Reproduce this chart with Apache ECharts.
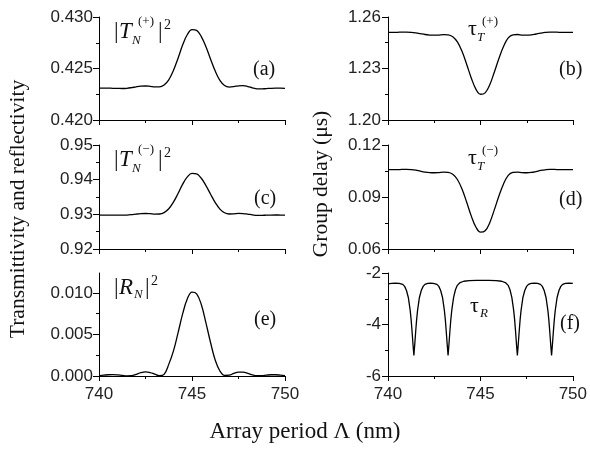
<!DOCTYPE html>
<html><head><meta charset="utf-8">
<script src="https://cdn.jsdelivr.net/npm/echarts@6/dist/echarts.min.js"></script>
<style>html,body{margin:0;padding:0;background:#fff}#c{width:590px;height:452px}</style>
</head><body><div id="c"></div>
<script>
// ---- data ----
const xPeriod = [740,740.25,740.5,740.75,741,741.25,741.5,741.75,742,742.25,742.5,742.75,743,743.25,743.5,743.75,744,744.25,744.5,744.75,745,745.25,745.5,745.75,746,746.25,746.5,746.75,747,747.25,747.5,747.75,748,748.25,748.5,748.75,749,749.25,749.5,749.75,750];
const tPlus = [0.42310,0.42310,0.42309,0.42308,0.42307,0.42306,0.42308,0.42314,0.42322,0.42328,0.42330,0.42327,0.42322,0.42322,0.42340,0.42390,0.42480,0.42600,0.42730,0.42830,0.42878,0.42870,0.42810,0.42710,0.42590,0.42475,0.42385,0.42335,0.42320,0.42324,0.42332,0.42333,0.42325,0.42312,0.42303,0.42302,0.42305,0.42308,0.42309,0.42309,0.42308];
const tMinus = [0.92980,0.92980,0.92978,0.92976,0.92975,0.92975,0.92980,0.92992,0.93008,0.93020,0.93024,0.93018,0.93008,0.93010,0.93050,0.93160,0.93350,0.93600,0.93870,0.94080,0.94180,0.94165,0.94040,0.93830,0.93580,0.93340,0.93150,0.93045,0.93010,0.93015,0.93025,0.93022,0.93005,0.92985,0.92972,0.92972,0.92976,0.92980,0.92981,0.92980,0.92979];
const rRefl = [0.00005,0.00010,0.00015,0.00016,0.00013,0.00007,0.00002,0.00003,0.00020,0.00040,0.00049,0.00042,0.00022,0.00004,0.00020,0.00140,0.00300,0.00520,0.00750,0.00930,0.01010,0.00990,0.00860,0.00640,0.00400,0.00190,0.00060,0.00008,0.00010,0.00032,0.00047,0.00046,0.00032,0.00013,0.00003,0.00004,0.00010,0.00015,0.00015,0.00010,0.00004];
const tauTPlus = [1.2511,1.2511,1.2511,1.2512,1.2512,1.2511,1.2508,1.2503,1.2498,1.2495,1.2494,1.2495,1.2497,1.2496,1.2485,1.2455,1.2400,1.2325,1.2245,1.2180,1.2150,1.2158,1.2205,1.2280,1.2360,1.2430,1.2478,1.2496,1.2498,1.2495,1.2494,1.2496,1.2501,1.2506,1.2510,1.2512,1.2512,1.2511,1.2511,1.2511,1.2511];
const tauTMinus = [0.1058,0.1058,0.1058,0.1059,0.1059,0.1058,0.1055,0.1049,0.1044,0.1041,0.1040,0.1041,0.1043,0.1042,0.1031,0.1001,0.0946,0.0871,0.0791,0.0727,0.0697,0.0705,0.0752,0.0827,0.0907,0.0977,0.1025,0.1042,0.1044,0.1041,0.1040,0.1042,0.1047,0.1053,0.1057,0.1059,0.1059,0.1058,0.1058,0.1058,0.1058];
const xPeriodR = [740,740.2,740.4,740.6,740.8,740.9,741.0,741.1,741.2,741.25,741.3,741.35,741.4,741.45,741.5,741.55,741.6,741.7,741.8,741.9,742.0,742.15,742.3,742.45,742.65,742.75,742.85,742.95,743.05,743.1,743.15,743.2,743.25,743.3,743.35,743.4,743.45,743.55,743.65,743.75,743.9,744.1,744.4,744.8,745.1,745.45,745.85,746.15,746.35,746.5,746.6,746.7,746.8,746.85,746.9,746.95,747.0,747.05,747.1,747.15,747.2,747.3,747.4,747.5,747.6,747.75,747.92,748.1,748.25,748.35,748.45,748.55,748.65,748.7,748.75,748.8,748.85,748.9,748.95,749.0,749.05,749.15,749.25,749.35,749.45,749.6,749.8,750];
const tauR = [-2.42,-2.40,-2.39,-2.40,-2.44,-2.52,-2.68,-2.95,-3.45,-3.8,-4.25,-4.75,-5.2,-4.75,-4.25,-3.8,-3.45,-2.95,-2.68,-2.52,-2.44,-2.40,-2.39,-2.40,-2.44,-2.52,-2.68,-2.95,-3.45,-3.8,-4.25,-4.75,-5.2,-4.75,-4.25,-3.8,-3.45,-2.95,-2.65,-2.48,-2.37,-2.32,-2.30,-2.29,-2.29,-2.29,-2.30,-2.32,-2.37,-2.48,-2.65,-2.95,-3.45,-3.8,-4.25,-4.75,-5.2,-4.75,-4.25,-3.8,-3.45,-2.95,-2.68,-2.52,-2.44,-2.40,-2.39,-2.40,-2.44,-2.52,-2.68,-2.95,-3.45,-3.8,-4.25,-4.75,-5.2,-4.75,-4.25,-3.8,-3.45,-2.95,-2.68,-2.52,-2.44,-2.40,-2.39,-2.40];
const xTickLabels = [740, 745, 750];
const eTickValues = [0, 0.005, 0.010];

// ---- chart ----
const SANS = '"Liberation Sans", Arial, sans-serif';
const SERIF = '"Liberation Serif", "Times New Roman", serif';
const INK = '#111';
const zip = (xs, ys) => xs.map((x, i) => [x, ys[i]]);

const grids = [
  {left: 99, top: 17, width: 186, height: 103},
  {left: 388, top: 17, width: 185, height: 103},
  {left: 99, top: 145, width: 186, height: 104},
  {left: 388, top: 145, width: 185, height: 104},
  {left: 99, top: 273, width: 186, height: 103},
  {left: 388, top: 273, width: 185, height: 103}
];
const yCfg = [
  {min: 0.420, max: 0.430, interval: 0.005, dec: 3, margin: 6},
  {min: 1.20, max: 1.26, interval: 0.03, dec: 2, margin: 7},
  {min: 0.92, max: 0.95, interval: 0.01, dec: 2, margin: 6},
  {min: 0.06, max: 0.12, interval: 0.03, dec: 2, margin: 7},
  {min: 0, max: 0.0124, interval: 0.005, dec: 3, margin: 6, custom: eTickValues},
  {min: -6, max: -2, interval: 2, dec: 0, margin: 7}
];
const seriesData = [
  zip(xPeriod, tPlus), zip(xPeriod, tauTPlus),
  zip(xPeriod, tMinus), zip(xPeriod, tauTMinus),
  zip(xPeriod, rRefl), zip(xPeriodR, tauR)
];

const axisLine = {show: true, lineStyle: {color: '#000', width: 1}};
const xAxis = grids.map((g, i) => ({
  type: 'value', gridIndex: i, min: 740, max: 750, interval: 5,
  axisLine, splitLine: {show: false},
  axisTick: {show: true, length: 5, lineStyle: {color: '#000'}},
  minorTick: {show: true, splitNumber: 2, length: 3, lineStyle: {color: '#000'}},
  axisLabel: {show: i >= 4, margin: 10, fontFamily: SANS, fontSize: 17, color: '#222',
    customValues: xTickLabels, formatter: v => String(Math.round(v))}
}));
const yAxis = yCfg.map((c, i) => {
  const ax = {
    type: 'value', gridIndex: i, min: c.min, max: c.max, interval: c.interval,
    axisLine, splitLine: {show: false},
    axisTick: {show: true, length: 6, lineStyle: {color: '#000'}},
    minorTick: {show: true, splitNumber: 2, length: 3, lineStyle: {color: '#000'}},
    axisLabel: {margin: c.margin, fontFamily: SANS, fontSize: 17, color: '#222',
      formatter: v => Number(v).toFixed(c.dec)}
  };
  if (c.custom) {
    ax.axisTick.customValues = c.custom;
    ax.axisLabel.customValues = c.custom;
  }
  return ax;
});
const series = seriesData.map((d, i) => ({
  type: 'line', xAxisIndex: i, yAxisIndex: i, data: d,
  showSymbol: false, smooth: i === 5 ? false : 0.4,
  lineStyle: {color: '#000', width: 1.3}, silent: true, animation: false
}));

function txt(s, x, y, size, italic, align) {
  return {type: 'text', x: x, y: y, silent: true,
    style: {text: s, font: (italic ? 'italic ' : '') + size + 'px ' + SERIF,
      fill: INK, textAlign: align || 'left', textVerticalAlign: 'middle'}};
}
function tLabel(sign, dy) {
  return [
    txt('|', 114, 32 + dy, 23, false),
    txt('T', 119, 32 + dy, 23, true),
    txt('N', 132, 41 + dy, 13, true),
    txt('(' + sign + ')', 138, 22 + dy, 13, false),
    txt('|', 158, 32 + dy, 23, false),
    txt('2', 164, 25 + dy, 14, false)
  ];
}
function tauLabel(sign, dy) {
  return [
    txt('\u03C4', 468, 29 + dy, 22, false),
    txt('T', 477, 38 + dy, 13, true),
    txt('(' + sign + ')', 482, 22 + dy, 13, false)
  ];
}
const elements = [].concat(
  tLabel('+', 0), tLabel('\u2212', 128),
  [txt('|', 114, 288, 23, false), txt('R', 119, 288, 23, true), txt('N', 134, 295, 13, true),
   txt('|', 145, 288, 23, false), txt('2', 151, 281, 14, false)],
  tauLabel('+', 0), tauLabel('\u2212', 129),
  [txt('\u03C4', 470, 306, 22, false), txt('R', 480, 314, 13, true)],
  [txt('(a)', 253, 70, 20), txt('(c)', 254, 199, 20), txt('(e)', 254, 320, 20),
   txt('(b)', 559, 70, 20), txt('(d)', 559, 200, 20), txt('(f)', 560, 324, 20)],
  [
    {type: 'text', x: 18, y: 209, rotation: Math.PI / 2, silent: true,
      style: {text: 'Transmittivity and reflectivity', font: '21.5px ' + SERIF, fill: INK,
        textAlign: 'center', textVerticalAlign: 'middle'}},
    {type: 'text', x: 321, y: 184, rotation: Math.PI / 2, silent: true,
      style: {text: 'Group delay (\u03BCs)', font: '21.5px ' + SERIF, fill: INK,
        textAlign: 'center', textVerticalAlign: 'middle'}},
    {type: 'text', x: 305, y: 432, silent: true,
      style: {text: 'Array period \u039B (nm)', font: '23px ' + SERIF, fill: INK,
        textAlign: 'center', textVerticalAlign: 'middle'}}
  ]
);

const chart = echarts.init(document.getElementById('c'), null, {renderer: 'canvas'});
chart.setOption({
  animation: false,
  backgroundColor: '#fff',
  grid: grids,
  xAxis: xAxis,
  yAxis: yAxis,
  series: series,
  graphic: {elements: elements}
});
</script>
</body></html>
